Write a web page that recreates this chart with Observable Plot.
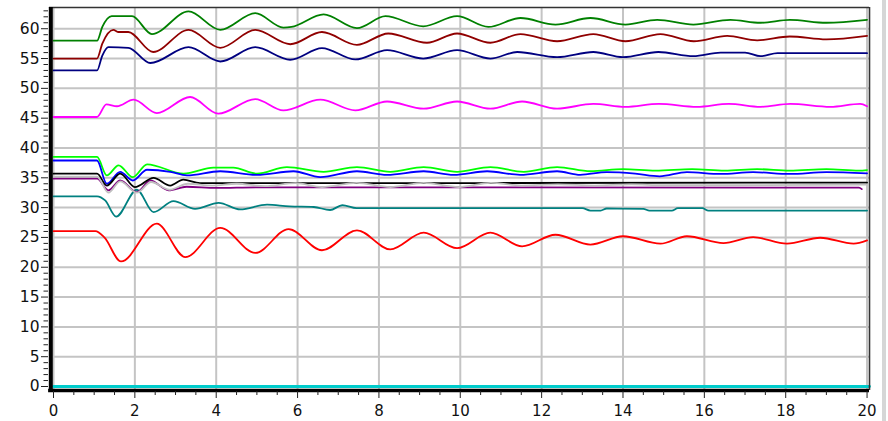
<!DOCTYPE html>
<html><head><meta charset="utf-8">
<script src="https://cdn.jsdelivr.net/npm/d3@7"></script>
<script src="https://cdn.jsdelivr.net/npm/@observablehq/plot@0.6"></script>
<style>
html,body{margin:0;padding:0;background:#fff;}
#wrap{position:relative;width:888px;height:421px;overflow:hidden;background:#fff;}
#bar{position:absolute;left:882px;top:0;width:4px;height:421px;background:#d6d6d6;}
</style></head><body><div id="wrap"><div id="chart"></div><div id="bar"></div></div>
<script>
// series: [time (s), value]
const green = [[0,58.0],[1.07,58.0],[1.2,60.3],[1.43,62.1],[1.93,62.1],[2.42,59.1],[3.32,62.9],[4.1,59.8],[4.96,62.6],[5.65,60.2],[5.85,60.3],[6.64,62.4],[7.46,60.1],[8.16,62.1],[9.09,60.4],[9.92,62.1],[10.69,60.3],[11.48,61.8],[12.34,60.7],[13.2,61.8],[14.06,60.7],[14.84,61.5],[15.73,60.7],[16.64,61.5],[17.38,61.0],[18.1,61.5],[19.0,61.0],[20,61.5]];
const darkred = [[0,55.0],[1.07,55.0],[1.2,57.5],[1.47,59.8],[1.6,59.45],[1.84,59.45],[2.45,56.1],[3.32,59.8],[4.1,56.8],[4.96,59.8],[5.82,57.4],[6.6,59.45],[7.46,57.3],[8.23,59.2],[9.18,57.65],[9.92,59.2],[10.74,57.65],[11.48,59.1],[12.38,57.9],[13.27,59.1],[14.06,57.9],[14.92,59.1],[15.74,57.9],[16.56,58.8],[17.3,58.05],[18.1,58.7],[19.0,58.2],[20,58.8]];
const navy = [[0,53.0],[1.07,53.0],[1.2,55.5],[1.35,56.9],[1.84,56.8],[2.38,54.25],[3.32,56.9],[4.1,54.5],[4.96,56.9],[5.82,54.8],[6.6,56.75],[7.42,54.85],[8.2,56.4],[9.09,55.0],[9.92,56.4],[10.74,55.0],[11.4,56.1],[12.38,55.25],[13.27,56.1],[14.0,55.25],[14.87,56.1],[15.73,55.4],[16.4,56.0],[17.0,56.0],[17.38,55.4],[17.8,55.9],[20,55.9]];
const magenta = [[0,45.2],[1.07,45.2],[1.3,47.3],[1.56,47.0],[1.97,48.1],[2.54,45.85],[3.36,48.55],[4.05,45.75],[4.96,48.2],[5.65,46.3],[6.56,48.1],[7.42,46.3],[8.2,47.8],[9.1,46.6],[9.92,47.8],[10.74,46.6],[11.52,47.8],[12.38,46.6],[13.27,47.4],[14.06,46.9],[14.88,47.4],[15.82,46.9],[16.6,47.4],[17.38,46.9],[18.11,47.4],[19.1,46.9],[19.83,47.4],[20,47.0]];
const lime = [[0,38.5],[1.07,38.5],[1.31,35.4],[1.6,37.1],[1.95,35.1],[2.3,37.25],[3.2,35.7],[3.93,36.7],[4.42,36.7],[5.0,35.7],[5.74,36.8],[6.64,36.0],[7.46,36.8],[8.28,36.0],[9.1,36.8],[9.92,36.0],[10.74,36.8],[11.56,36.0],[12.38,36.8],[13.2,36.1],[14.0,36.45],[14.8,36.2],[15.7,36.45],[16.5,36.2],[17.3,36.45],[18.1,36.2],[19.0,36.45],[19.8,36.2],[20,36.3]];
const blue = [[0,37.9],[1.07,37.9],[1.31,34.0],[1.64,36.0],[1.95,34.55],[2.3,36.35],[2.87,36.0],[3.28,35.4],[4.1,36.1],[5.0,35.5],[5.9,36.1],[6.56,35.1],[7.46,36.1],[8.2,35.5],[9.1,36.1],[9.84,35.5],[10.66,36.1],[11.47,35.5],[12.38,36.1],[12.95,35.5],[13.6,35.95],[14.3,35.7],[14.9,35.25],[15.57,35.95],[16.4,35.65],[17.2,35.95],[18.1,35.65],[19.0,35.95],[20,35.75]];
const black = [[0,35.7],[1.07,35.7],[1.31,33.7],[1.64,35.7],[2.0,33.45],[2.46,35.0],[2.87,33.7],[3.19,34.7],[3.6,34.1],[20,34.2]];
const purple = [[0,34.85],[1.07,34.85],[1.35,32.9],[1.64,34.55],[2.05,32.6],[2.38,34.55],[2.83,32.9],[3.27,33.5],[4.0,33.3],[5.0,33.4],[19.8,33.35],[19.87,33.1]];
const gray = [[0,35.2],[1.07,35.2],[1.35,32.5],[1.64,34.4],[2.05,32.5],[2.4,34.3],[2.85,33.0],[3.3,34.0],[3.9,33.7],[4.5,34.0],[5.2,33.6],[5.95,34.1],[6.6,33.45],[7.45,34.15],[8.28,33.45],[9.1,34.15],[9.96,33.45],[10.75,34.15],[11.5,33.7],[12.4,33.9],[13.3,33.7],[14.2,33.9],[15,33.75],[20,33.85]];
const teal = [[0,31.9],[1.07,31.9],[1.27,31.2],[1.54,28.5],[2.05,33.0],[2.46,29.25],[2.95,31.1],[3.48,29.8],[4.06,30.8],[4.59,29.7],[5.25,30.5],[5.8,30.2],[6.4,30.1],[6.8,29.6],[7.1,30.4],[7.45,29.9],[13.0,29.9],[13.2,29.5],[13.45,29.5],[13.6,29.85],[14.5,29.8],[14.65,29.5],[15.2,29.5],[15.35,29.9],[15.95,29.9],[16.1,29.5],[20,29.5]];
const red = [[0,26.05],[1.03,26.05],[1.25,25.0],[1.66,20.97],[2.54,27.3],[3.24,21.7],[4.1,26.6],[4.96,22.4],[5.78,26.4],[6.6,22.85],[7.46,26.2],[8.28,23.0],[9.1,25.8],[9.92,23.2],[10.74,25.8],[11.52,23.5],[12.34,25.45],[13.2,23.8],[14.0,25.2],[14.92,23.95],[15.57,25.2],[16.47,24.05],[17.2,25.05],[18.03,23.95],[18.85,24.95],[19.67,23.95],[20,24.5]];
const cyan = [[0,0],[20.06,0]];

const xMajor = d3.range(0, 21, 2);
const xMinor = d3.range(0, 20.01, 0.5).filter(v => v % 2 !== 0);
const yMajor = d3.range(0, 61, 5);
const yMinor = d3.range(0, 64, 1).filter(v => v % 5 !== 0);

const xDom = [0, 20.06], yDom = [-0.67, 63.56];

const series = [
  [cyan, "#00cccc", 2.8],
  [red, "#ff0000", 1.8],
  [teal, "#008080", 1.8],
  [lime, "#00ff00", 1.8],
  [blue, "#0000ff", 1.8],
  [purple, "#800080", 1.8],
  [black, "#000000", 1.8],
  [gray, "#c0c0c0", 1.8],
  [magenta, "#ff00ff", 1.8],
  [navy, "#000080", 1.8],
  [darkred, "#900000", 1.8],
  [green, "#008000", 1.8]
];

const chart = Plot.plot({
  width: 888, height: 421,
  marginLeft: 53, marginRight: 19, marginTop: 7, marginBottom: 31,
  x: {domain: xDom, axis: null},
  y: {domain: yDom, axis: null},
  style: {fontFamily: "DejaVu Sans", fontSize: "15px", color: "#111", background: "white"},
  marks: [
    Plot.ruleX(xMajor, {stroke: "#c4c4c4", strokeWidth: 2}),
    Plot.ruleY(yMajor, {stroke: "#c4c4c4", strokeWidth: 2}),
    ...series.map(([d, c, w]) => Plot.line(d, {x: p => p[0], y: p => p[1], stroke: c, strokeWidth: w, curve: "monotone-x"})),
    Plot.ruleY([yDom[1]], {x1: -0.1, x2: xDom[1], stroke: "#333", strokeWidth: 1.6}),
    Plot.ruleX([xDom[1]], {y1: yDom[0], y2: yDom[1], stroke: "#333", strokeWidth: 1.6}),
    Plot.ruleX([-0.066], {y1: -1.0, y2: yDom[1], stroke: "#000", strokeWidth: 4}),
    Plot.ruleY([yDom[0]], {x1: -0.12, x2: xDom[1], stroke: "#000", strokeWidth: 3.5}),
    Plot.axisY({ticks: yMajor, anchor: "left", tickSize: 7, tickPadding: 2, dx: -5, fontSize: 15.5, stroke: "#222", label: null}),
    Plot.axisY({ticks: yMinor, anchor: "left", tickSize: 4.5, dx: -5, tickFormat: () => "", stroke: "#222", label: null}),
    Plot.axisX({ticks: xMajor, anchor: "bottom", tickSize: 7, tickPadding: 7, dy: 1, fontSize: 15, stroke: "#222", label: null}),
    Plot.axisX({ticks: xMinor, anchor: "bottom", tickSize: 4, dy: 1, tickFormat: () => "", stroke: "#222", label: null})
  ]
});
document.getElementById("chart").appendChild(chart);
</script>
</body></html>
